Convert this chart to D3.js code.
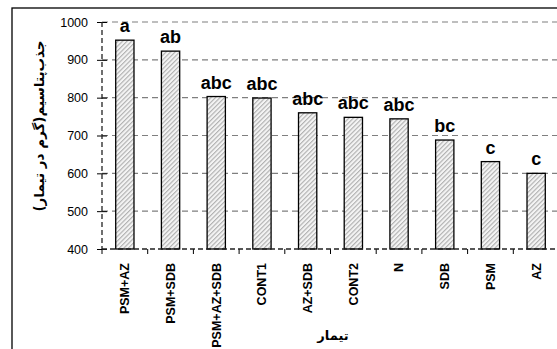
<!DOCTYPE html>
<html>
<head>
<meta charset="utf-8">
<script src="https://cdn.jsdelivr.net/npm/d3@7"></script>
<style>
body { margin: 0; background: #fff; }
svg { display: block; }
</style>
</head>
<body>
<script>
// treatments, values, letters of the mean test
var treatments = ["PSM+AZ", "PSM+SDB", "PSM+AZ+SDB", "CONT1", "AZ+SDB", "CONT2", "N", "SDB", "PSM", "AZ"];
var uptake = [952, 923, 803, 799, 760, 748, 744, 688, 631, 600];
var letters = ["a", "ab", "abc", "abc", "abc", "abc", "abc", "bc", "c", "c"];
var yTicks = [400, 500, 600, 700, 800, 900, 1000];

var W = 557, H = 349;
var pLeft = 102, pRight = 559, pTop = 22, pBottom = 249;

var svg = d3.select("body").append("svg")
    .attr("width", W)
    .attr("height", H);

// hatch pattern for the bars
var pat = svg.append("defs").append("pattern")
    .attr("id", "hatch")
    .attr("patternUnits", "userSpaceOnUse")
    .attr("width", 3.2).attr("height", 3.2)
    .attr("patternTransform", "rotate(45)");
pat.append("rect").attr("width", 3.2).attr("height", 3.2).attr("fill", "#f4f4f4");
pat.append("line")
    .attr("x1", 0.6).attr("y1", 0).attr("x2", 0.6).attr("y2", 3.2)
    .attr("stroke", "#a8a8a8").attr("stroke-width", 1);

// outer frame (goes past the window on the right and bottom)
svg.append("rect")
    .attr("x", 12).attr("y", 8)
    .attr("width", 600).attr("height", 400)
    .attr("fill", "none")
    .attr("stroke", "#000")
    .attr("stroke-width", 1.3);

var x = d3.scaleBand()
    .domain(treatments)
    .range([pLeft, pRight])
    .paddingInner(0.6)
    .paddingOuter(0.3);

var y = d3.scaleLinear()
    .domain([400, 1000])
    .range([pBottom, pTop]);

// gridlines
svg.append("g")
    .selectAll("line")
    .data(yTicks.filter(function(d) { return d > 400; }))
    .enter().append("line")
    .attr("x1", pLeft).attr("x2", pRight)
    .attr("y1", function(d) { return y(d); })
    .attr("y2", function(d) { return y(d); })
    .attr("stroke", "#7f7f7f")
    .attr("stroke-width", 1.2)
    .attr("stroke-dasharray", "6,4");

// y axis
var yAxis = d3.axisLeft(y).tickValues(yTicks).tickFormat(d3.format("d")).tickSize(5).tickPadding(9);
var ya = svg.append("g")
    .attr("transform", "translate(" + pLeft + ",0)")
    .call(yAxis);
ya.select(".domain").remove();
ya.selectAll(".tick line").attr("x1", 5).attr("x2", -5).attr("stroke", "#000");
ya.selectAll("text")
    .style("font-family", "Liberation Sans, Arial, sans-serif")
    .style("font-size", "12.5px")
    .attr("fill", "#000")
    .attr("x", -14);

svg.append("line")
    .attr("x1", pLeft).attr("x2", pLeft)
    .attr("y1", pTop).attr("y2", pBottom)
    .attr("stroke", "#222").attr("stroke-width", 1.3)
    .attr("stroke-dasharray", "5,3");

// bars
svg.append("g")
    .selectAll("rect")
    .data(uptake)
    .enter().append("rect")
    .attr("x", function(d, i) { return x(treatments[i]); })
    .attr("width", x.bandwidth())
    .attr("y", function(d) { return y(d); })
    .attr("height", function(d) { return pBottom - y(d); })
    .attr("fill", "url(#hatch)")
    .attr("stroke", "#000")
    .attr("stroke-width", 1.3);

// letters over the bars
svg.append("g")
    .selectAll("text")
    .data(letters)
    .enter().append("text")
    .attr("x", function(d, i) { return x(treatments[i]) + x.bandwidth() / 2; })
    .attr("y", function(d, i) { return y(uptake[i]) - 8; })
    .attr("text-anchor", "middle")
    .style("font-family", "Liberation Sans, Arial, sans-serif")
    .style("font-weight", "bold")
    .style("font-size", "18px")
    .text(function(d) { return d; });

// x axis
var xa = svg.append("g")
    .attr("transform", "translate(0," + pBottom + ")")
    .call(d3.axisBottom(x).tickSize(0));
xa.select(".domain").remove();
xa.selectAll(".tick line").remove();
xa.selectAll("text")
    .attr("transform", "rotate(-90)")
    .attr("x", -14).attr("y", 0).attr("dy", "0.35em")
    .attr("text-anchor", "end")
    .attr("fill", "#000")
    .style("font-family", "Liberation Sans, Arial, sans-serif")
    .style("font-weight", "bold")
    .style("font-size", "12.5px");

// category separators on the baseline
svg.append("g")
    .selectAll("line")
    .data(d3.range(treatments.length + 1))
    .enter().append("line")
    .attr("x1", function(i) { return pLeft + i * x.step(); })
    .attr("x2", function(i) { return pLeft + i * x.step(); })
    .attr("y1", pBottom).attr("y2", pBottom + 5)
    .attr("stroke", "#000");

svg.append("line")
    .attr("x1", pLeft).attr("x2", pRight)
    .attr("y1", pBottom).attr("y2", pBottom)
    .attr("stroke", "#222").attr("stroke-width", 1.3)
    .attr("stroke-dasharray", "5,3");

// axis titles
svg.append("text")
    .attr("transform", "translate(44,126) rotate(-90)")
    .attr("text-anchor", "middle")
    .attr("direction", "rtl")
    .style("font-family", "DejaVu Sans, sans-serif")
    .style("font-weight", "bold")
    .style("font-size", "13.5px")
    .text("جذب‌پتاسیم(گرم در تیمار)");

svg.append("text")
    .attr("x", 333).attr("y", 340)
    .attr("text-anchor", "middle")
    .attr("direction", "rtl")
    .style("font-family", "DejaVu Sans, sans-serif")
    .style("font-weight", "bold")
    .style("font-size", "13px")
    .text("تیمار");
</script>
</body>
</html>
